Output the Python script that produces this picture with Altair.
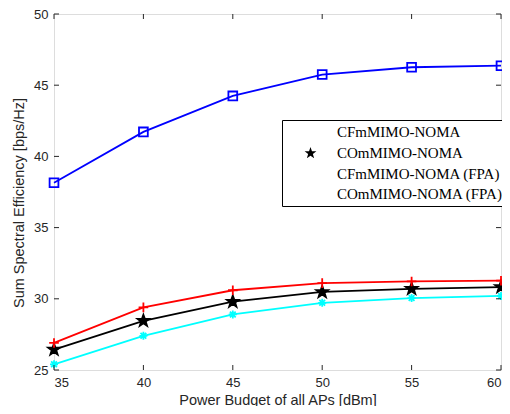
import math
import altair as alt
import pandas as pd

power = [35, 40, 45, 50, 55, 60]
series_names = ["CFmMIMO-NOMA", "COmMIMO-NOMA", "CFmMIMO-NOMA (FPA)", "COmMIMO-NOMA (FPA)"]
marker_codes = ["m0", "m1", "m2", "m3"]
cf_noma = [38.15, 41.72, 44.25, 45.75, 46.26, 46.37]
co_noma = [26.43, 28.45, 29.8, 30.48, 30.7, 30.82]
cf_fpa = [26.9, 29.4, 30.6, 31.1, 31.22, 31.27]
co_fpa = [25.4, 27.4, 28.9, 29.72, 30.05, 30.2]
x_ticks = [35, 40, 45, 50, 55, 60]
y_ticks = [25, 30, 35, 40, 45, 50]

colors = ["#0000FF", "#000000", "#FF0000", "#00FFFF"]
fills = ["transparent", "#000000", "transparent", "#00FFFF"]

# marker shapes (unit paths)
square = "M-1.1,-1.1L1.1,-1.1L1.1,1.1L-1.1,1.1Z"
pts = []
for k in range(10):
    r = 1.55 if k % 2 == 0 else 0.62
    a = math.radians(-90 + 36 * k)
    pts.append(f"{r*math.cos(a):.3f},{r*math.sin(a):.3f}")
star = "M" + "L".join(pts) + "Z"
plus = "M-1.2,0L1.2,0M0,-1.2L0,1.2"
aster = "M-1,0L1,0M0,-1L0,1M-0.72,-0.72L0.72,0.72M-0.72,0.72L0.72,-0.72"
markers = [square, star, plus, aster]
seg = "M-5.3,0L5.3,0"
legend_shapes = [seg + m for m in markers]

rows = []
for name, code, vals in zip(series_names, marker_codes, [cf_noma, co_noma, cf_fpa, co_fpa]):
    for p, v in zip(power, vals):
        rows.append({"power": p, "se": v, "series": name, "mk": code})
df = pd.DataFrame(rows)

W, H = 447, 356


def tern(values):
    expr = f"'{values[-1]}'"
    for n, v in reversed(list(zip(series_names[:-1], values[:-1]))):
        expr = f"datum.value === '{n}' ? '{v}' : ({expr})"
    return expr


legend = alt.Legend(
    title=None, orient="none", legendX=228, legendY=106,
    strokeColor="#000000", fillColor="white", padding=4, rowPadding=2.7,
    symbolSize=64, symbolOffset=17, labelOffset=19, labelLimit=400,
    labelFont="Liberation Serif", labelFontSize=15, labelColor="#000000",
    symbolStrokeWidth=1.8, symbolOpacity=1,
    symbolStrokeColor={"expr": tern(colors)},
)

xs = alt.Scale(domain=[35, 60], nice=False, zero=False)
ys = alt.Scale(domain=[25, 50], nice=False, zero=False)
stroke_scale = alt.Scale(domain=series_names, range=colors)

x_axis = alt.Axis(values=x_ticks, ticks=False, domain=False, grid=False, labelPadding=6,
                  labelFont="Liberation Sans", labelFontSize=13, labelColor="#262626",
                  title="Power Budget of all APs [dBm]", titleFont="Liberation Sans",
                  titleFontSize=14.5, titleFontWeight="normal", titleColor="#262626",
                  titleX=W / 2, titleY=30, titleBaseline="middle")
y_axis = alt.Axis(values=y_ticks, ticks=False, domain=False, grid=False, labelPadding=6,
                  labelFont="Liberation Sans", labelFontSize=13, labelColor="#262626",
                  title="Sum Spectral Efficiency [bps/Hz]", titleFont="Liberation Sans",
                  titleFontSize=14.5, titleFontWeight="normal", titleColor="#262626",
                  titleX=-34.5, titleY=188.5, titleBaseline="middle", titleAngle=270)

base = alt.Chart(df)
X = alt.X("power:Q", scale=xs, axis=x_axis)
Y = alt.Y("se:Q", scale=ys, axis=y_axis)

lines = base.mark_line(strokeWidth=1.8).encode(
    x=X, y=Y,
    stroke=alt.Stroke("series:N", scale=stroke_scale, legend=None),
    detail="series:N",
)
points = base.mark_point(size=64, strokeWidth=1.8, opacity=1).encode(
    x=X, y=Y,
    stroke=alt.Stroke("series:N", scale=stroke_scale, legend=None),
    fill=alt.Fill("mk:N", scale=alt.Scale(domain=marker_codes, range=fills), legend=None),
    shape=alt.Shape("mk:N", scale=alt.Scale(domain=marker_codes, range=markers), legend=None),
)
# legend-only layer (no rows drawn; legend built from explicit scale domains)
legend_layer = base.transform_filter("false").mark_point(size=64, strokeWidth=1.8, opacity=1, filled=False).encode(
    x=X, y=Y,
    stroke=alt.Stroke("series:N", scale=stroke_scale, legend=legend),
    fill=alt.Fill("series:N", scale=alt.Scale(domain=series_names, range=fills), legend=legend),
    shape=alt.Shape("series:N", scale=alt.Scale(domain=series_names, range=legend_shapes), legend=legend),
)

tick_color = "#262626"
xt = alt.Chart(pd.DataFrame({"t": x_ticks}))
yt = alt.Chart(pd.DataFrame({"t": y_ticks}))
tx = alt.X("t:Q", scale=xs, axis=x_axis)
ty = alt.Y("t:Q", scale=ys, axis=y_axis)
ticks = [
    xt.mark_rule(color=tick_color, strokeWidth=1).encode(x=tx, y=alt.value(H), y2=alt.value(H - 5)),
    xt.mark_rule(color=tick_color, strokeWidth=1).encode(x=tx, y=alt.value(0), y2=alt.value(5)),
    yt.mark_rule(color=tick_color, strokeWidth=1).encode(y=ty, x=alt.value(0), x2=alt.value(5)),
    yt.mark_rule(color=tick_color, strokeWidth=1).encode(y=ty, x=alt.value(W), x2=alt.value(W - 5)),
]

chart = alt.layer(lines, points, legend_layer, *ticks).resolve_scale(
    shape="independent", fill="independent"
).properties(
    width=W, height=H,
    autosize=alt.AutoSizeParams(type="none"),
    padding={"left": 46, "top": 6, "right": 1, "bottom": 36},
).configure_view(stroke="#262626", strokeWidth=1).configure(background="white")

chart.save("out.html", embed_options={"renderer": "svg", "actions": False})
